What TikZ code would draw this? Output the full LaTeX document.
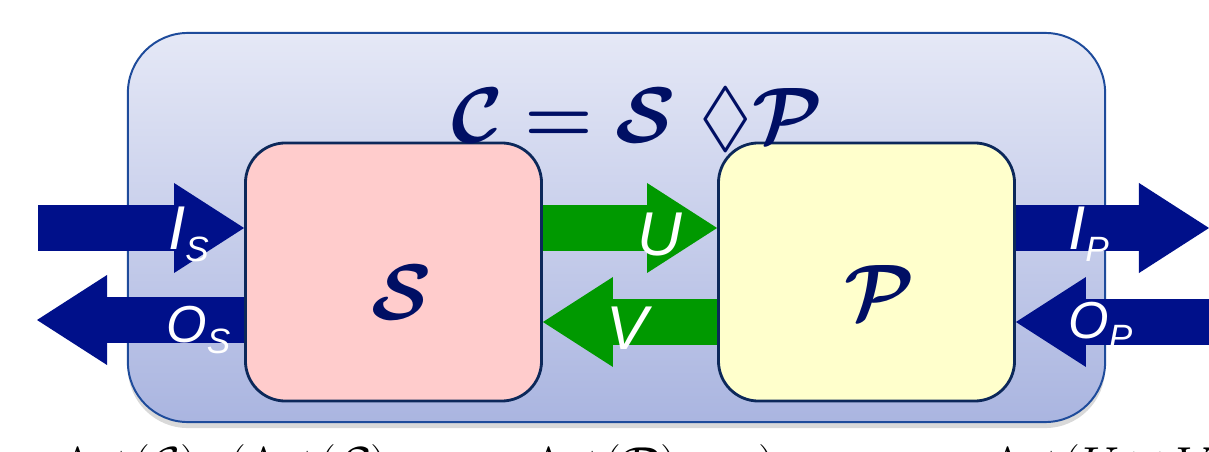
\RequirePackage{fix-cm}
\documentclass[tikz,border=0pt]{standalone}
\usepackage{amsmath,amssymb,bm}
\usepackage{fontspec}
\newfontfamily\labelfont{Liberation Sans}
\usetikzlibrary{arrows.meta, positioning, calc, shadows}
\definecolor{ArrowNavy}{RGB}{0,16,138}
\definecolor{FlowGreen}{RGB}{0,153,0}
\definecolor{TitleNavy}{RGB}{0,15,100}
\definecolor{BoxEdge}{RGB}{12,40,90}
\definecolor{SysEdge}{RGB}{30,75,155}
\definecolor{SysTop}{RGB}{229,232,246}
\definecolor{SysBottom}{RGB}{170,181,224}
\definecolor{SPink}{RGB}{255,204,204}
\definecolor{PYellow}{RGB}{255,255,204}

% size, letter, subscript
\newcommand{\portlbl}[3]{{\labelfont\itshape\fontsize{#1}{#1}\selectfont #2\raisebox{-8pt}{\fontsize{25}{25}\selectfont #3}}}

\begin{document}
\begin{tikzpicture}[
    x=0.025cm, y=-0.025cm,
    blockarrow/.style={line width=1.125cm,
        -{Triangle[length=1.75cm 0 0, width=2.25cm 0 0, line width=0pt 0 0]}},
    unitbox/.style={draw=BoxEdge, line width=2pt, rounded corners=1cm,
        minimum width=7.4cm, minimum height=6.45cm, inner sep=0pt},
    port/.style={text=white, anchor=base west, inner sep=0pt},
    calname/.style={text=TitleNavy, font=\fontsize{56}{56}\selectfont},
]
\useasboundingbox (0,0) rectangle (1209,452);
\clip (0,0) rectangle (1209,452);

% --- composed system C ---
\node[draw=SysEdge, line width=1.4pt, rounded corners=1.5cm,
      top color=SysTop, bottom color=SysBottom,
      drop shadow={shadow xshift=0cm, shadow yshift=-0.15cm, opacity=0.3},
      minimum width=24.425cm, minimum height=9.725cm] (sys) at (616.5,227.5) {};

% --- components S and P ---
\node[unitbox, fill=SPink] (sbox) at (393.5,272) {};
\node[unitbox, fill=PYellow] (pbox) at (866.5,272) {};
\node[calname] (sname) at (402,292) {$\bm{\mathcal{S}}$};
\node[calname] (pname) at (880,292) {$\bm{\mathcal{P}}$};

% --- title ---
\node[text=TitleNavy, anchor=base, font=\fontsize{56}{56}\selectfont] (title) at (637,143)
    {$\bm{\mathcal{C}} \mathrel{\bm{=}} \bm{\mathcal{S}}\ \lozenge\bm{\mathcal{P}}$};

% --- outer ports ---
\coordinate (isin) at (38,228);
\coordinate (osout) at (37,320);
\coordinate (ipout) at (1209,228);
\coordinate (opin) at (1209,322);

\draw[blockarrow, ArrowNavy] (isin) -- (sbox.west |- isin);
\draw[blockarrow, ArrowNavy] (sbox.west |- osout) -- (osout);
\draw[blockarrow, ArrowNavy] (pbox.east |- ipout) -- (ipout);
\draw[blockarrow, ArrowNavy] (opin) -- (pbox.east |- opin);

% --- internal flows ---
\draw[blockarrow, FlowGreen] (sbox.east |- isin) -- (pbox.west |- isin);
\draw[blockarrow, FlowGreen] (pbox.west |- opin) -- (sbox.east |- opin);

% --- labels ---
\node[port] (ls) at (168,250) {\portlbl{44}{I}{S}};
\node[port] (los) at (166,342) {\portlbl{37}{O}{S}};
\node[port] (lu) at (637,256) {\portlbl{44}{U}{}};
\node[port] (lv) at (606,349) {\portlbl{44}{V}{}};
\node[port] (lip) at (1068,250) {\portlbl{44}{I}{P}};
\node[port] (lop) at (1068,338) {\portlbl{37}{O}{P}};

% --- formula below (cut off) ---
\begin{scope}[every node/.style={anchor=base west, inner sep=0pt, font=\fontsize{36}{36}\selectfont}]
\node (actc) at (60,482) {Act($\mathcal{C}$)};
\node (acts) at (228,482) {(Act($\mathcal{S}$)};
\node (actp) at (531,482) {Act($\mathcal{P}$)};
\node (rp) at (758,482) {)};
\node (actuv) at (990,482) {Act($U\cup V$)};
\end{scope}
\end{tikzpicture}
\end{document}
